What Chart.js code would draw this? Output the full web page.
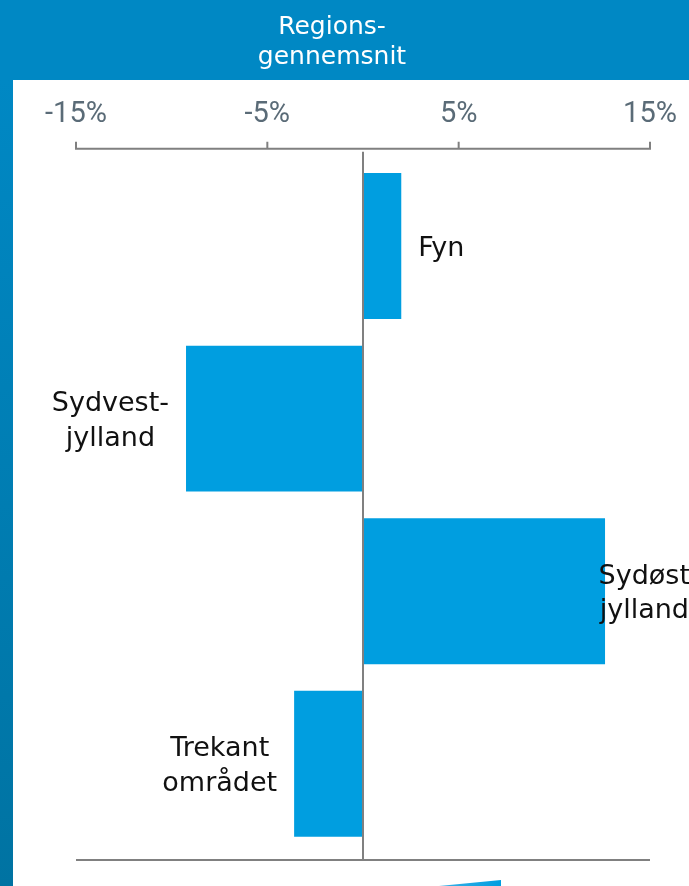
<!DOCTYPE html>
<html>
<head>
<meta charset="utf-8">
<script src="https://cdn.jsdelivr.net/npm/chart.js@4/dist/chart.umd.min.js"></script>
<style>
  html, body { margin: 0; padding: 0; background: #ffffff; }
  #c { display: block; }
</style>
</head>
<body>
<canvas id="c" width="689" height="886" style="width:689px;height:886px"></canvas>
<script>
// ---- data ----
const categories = [["Fyn"], ["Sydvest-", "jylland"], ["Sydøst", "jylland"], ["Trekant", "området"]];
const values = [2.0, -9.25, 12.65, -3.6];
const tickValues = [-15, -5, 5, 15];
const headerLines = ["Regions-", "gennemsnit"];

const BAR = '#009EE0';
const HEADER = '#0088C4';
const AXIS = '#808080';
const TICKTXT = '#5A6B77';
const LABELFONT = '27px "DejaVu Sans"';

const decorPlugin = {
  id: 'decor',
  beforeDraw(chart) {
    const ctx = chart.ctx, W = chart.width, H = chart.height;
    ctx.save();
    ctx.fillStyle = '#ffffff';
    ctx.fillRect(0, 0, W, H);
    ctx.fillStyle = HEADER;
    ctx.fillRect(0, 0, W, 80);
    const g = ctx.createLinearGradient(0, 80, 0, H);
    g.addColorStop(0, '#0088C4');
    g.addColorStop(1, '#0073A2');
    ctx.fillStyle = g;
    ctx.fillRect(0, 80, 13, H - 80);
    ctx.restore();
  },
  afterDatasetsDraw(chart) {
    const ctx = chart.ctx, W = chart.width, H = chart.height;
    const xs = chart.scales.x, area = chart.chartArea;
    const left = xs.getPixelForValue(tickValues[0]);
    const right = xs.getPixelForValue(tickValues[tickValues.length - 1]);
    const axisY = area.top - 11;
    const bottomY = area.bottom + 10;
    const zeroX = xs.getPixelForValue(0);
    ctx.save();
    ctx.strokeStyle = AXIS;
    ctx.lineWidth = 2;
    // top axis
    ctx.beginPath();
    ctx.moveTo(left - 1, axisY);
    ctx.lineTo(right + 1, axisY);
    tickValues.forEach(v => {
      const px = xs.getPixelForValue(v);
      ctx.moveTo(px, axisY);
      ctx.lineTo(px, axisY - 7);
    });
    ctx.stroke();
    // bottom line
    ctx.beginPath();
    ctx.moveTo(left, bottomY);
    ctx.lineTo(right, bottomY);
    ctx.stroke();
    // zero line
    ctx.beginPath();
    ctx.moveTo(zeroX, axisY + 3);
    ctx.lineTo(zeroX, bottomY);
    ctx.stroke();

    // bar labels
    ctx.font = LABELFONT;
    ctx.fillStyle = '#111111';
    ctx.textAlign = 'center';
    ctx.textBaseline = 'alphabetic';
    const meta = chart.getDatasetMeta(0);
    const capH = 19.7, lh = 34.5, gap = 17;
    meta.data.forEach((bar, i) => {
      const lines = categories[i];
      const maxW = Math.max(...lines.map(s => ctx.measureText(s).width));
      let cx;
      if (values[i] >= 0) {
        cx = bar.x + gap + maxW / 2;
        cx = Math.min(cx, W - maxW / 2 + 1);
      } else {
        cx = bar.x - gap - maxW / 2;
      }
      const total = capH + (lines.length - 1) * lh;
      let by = bar.y - total / 2 + capH;
      lines.forEach((s, k) => ctx.fillText(s, cx, by + k * lh));
    });

    // header text
    ctx.font = '25px "DejaVu Sans"';
    ctx.fillStyle = '#ffffff';
    ctx.fillText(headerLines[0], 332, 34);
    ctx.fillText(headerLines[1], 332, 64);

    // decorative shape at bottom
    const tg = ctx.createLinearGradient(439, 0, 501, 0);
    tg.addColorStop(0, '#3BB0E6');
    tg.addColorStop(1, '#009EE0');
    ctx.fillStyle = tg;
    ctx.beginPath();
    ctx.moveTo(439, H);
    ctx.lineTo(501, 880);
    ctx.lineTo(501, H);
    ctx.closePath();
    ctx.fill();
    ctx.restore();
  }
};

new Chart(document.getElementById('c'), {
  type: 'bar',
  data: {
    labels: categories,
    datasets: [{
      data: values,
      backgroundColor: BAR,
      borderWidth: 0,
      categoryPercentage: 1,
      barPercentage: 0.846
    }]
  },
  options: {
    indexAxis: 'y',
    responsive: false,
    animation: false,
    devicePixelRatio: 1,
    layout: { padding: { top: 94, left: 76, right: 39, bottom: 36 } },
    plugins: { legend: { display: false }, tooltip: { enabled: false } },
    scales: {
      x: {
        position: 'top',
        min: -15,
        max: 15,
        afterBuildTicks(scale) { scale.ticks = tickValues.map(v => ({ value: v })); },
        ticks: {
          color: TICKTXT,
          font: { family: 'Roboto', size: 29 },
          padding: 3,
          maxRotation: 0,
          autoSkip: false,
          callback: v => v + '%'
        },
        grid: { display: false, drawTicks: true, tickLength: 25 },
        border: { display: false }
      },
      y: {
        display: false,
        grid: { display: false }
      }
    }
  },
  plugins: [decorPlugin]
});
</script>
</body>
</html>
